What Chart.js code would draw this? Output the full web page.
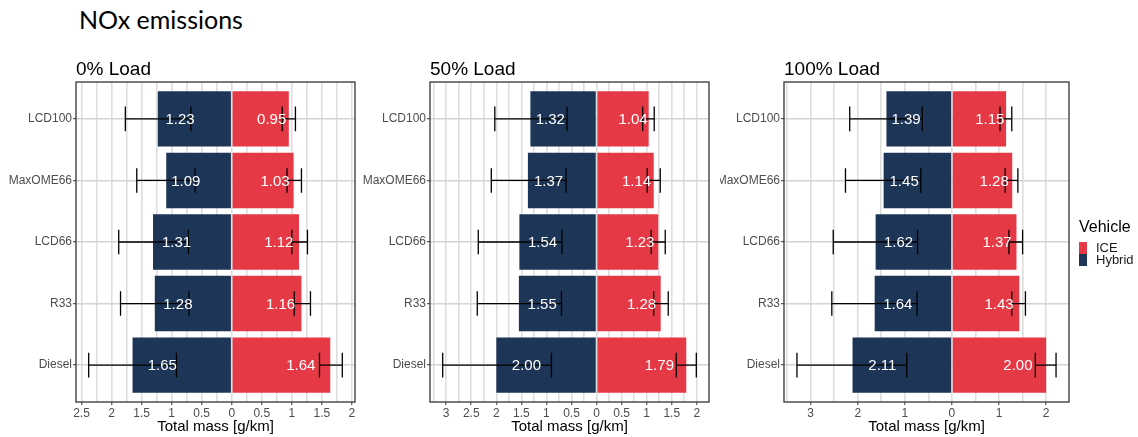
<!DOCTYPE html>
<html>
<head>
<meta charset="utf-8">
<script src="https://cdn.jsdelivr.net/npm/chart.js@4.4.0/dist/chart.umd.min.js"></script>
<style>
  body { margin: 0; background: #fff; width: 1138px; height: 437px; position: relative; overflow: hidden; }
  #mainTitle { position: absolute; left: 79px; top: 4px; font: 25px/30px Lato, "Liberation Sans", sans-serif; color: #000; }
  canvas { position: absolute; top: 0; }
</style>
</head>
<body>
<div id="mainTitle">NOx emissions</div>
<canvas id="p0" width="360" height="437" style="left:0"></canvas>
<canvas id="p1" width="360" height="437" style="left:360px"></canvas>
<canvas id="p2" width="418" height="437" style="left:720px"></canvas>
<script>
// categories, top to bottom
const categories = ['LCD100', 'MaxOME66', 'LCD66', 'R33', 'Diesel'];
const loadTitles = ['0% Load', '50% Load', '100% Load'];

// mean total mass [g/km]
const ice0 = [0.95, 1.03, 1.12, 1.16, 1.64];
const hybrid0 = [1.23, 1.09, 1.31, 1.28, 1.65];
const ice50 = [1.04, 1.14, 1.23, 1.28, 1.79];
const hybrid50 = [1.32, 1.37, 1.54, 1.55, 2.00];
const ice100 = [1.15, 1.28, 1.37, 1.43, 2.00];
const hybrid100 = [1.39, 1.45, 1.62, 1.64, 2.11];

// error bar bounds (lower, upper)
const iceLo0 = [0.84, 0.92, 1.00, 1.04, 1.46];
const iceHi0 = [1.06, 1.16, 1.26, 1.31, 1.84];
const hybridLo0 = [0.68, 0.61, 0.72, 0.71, 0.92];
const hybridHi0 = [1.77, 1.58, 1.88, 1.85, 2.38];
const iceLo50 = [0.92, 1.01, 1.09, 1.14, 1.59];
const iceHi50 = [1.15, 1.27, 1.37, 1.43, 1.99];
const hybridLo50 = [0.59, 0.61, 0.69, 0.70, 0.90];
const hybridHi50 = [2.03, 2.10, 2.36, 2.38, 3.07];
const iceLo100 = [1.02, 1.13, 1.21, 1.27, 1.77];
const iceHi100 = [1.27, 1.40, 1.50, 1.56, 2.21];
const hybridLo100 = [0.63, 0.66, 0.73, 0.74, 0.96];
const hybridHi100 = [2.17, 2.26, 2.52, 2.55, 3.29];

// major tick step per panel
const tickSteps = [0.5, 0.5, 1];

const RED = '#E63946', NAVY = '#1D3557';
const FONT = '"Liberation Sans", Arial, sans-serif';
Chart.defaults.font.family = FONT;
Chart.defaults.animation = false;

const panels = [
  { id: 'p0', ice: ice0, hyb: hybrid0, iceLo: iceLo0, iceHi: iceHi0, hybLo: hybridLo0, hybHi: hybridHi0, axisW: 76, padR: 5 },
  { id: 'p1', ice: ice50, hyb: hybrid50, iceLo: iceLo50, iceHi: iceHi50, hybLo: hybridLo50, hybHi: hybridHi50, axisW: 70, padR: 11 },
  { id: 'p2', ice: ice100, hyb: hybrid100, iceLo: iceLo100, iceHi: iceHi100, hybLo: hybridLo100, hybHi: hybridHi100, axisW: 64, padR: 69 }
];

// error bars, value labels, border, panel title
const decorations = {
  id: 'decorations',
  afterDatasetsDraw(chart, args, opts) {
    const { ctx, scales: { x, y } } = chart;
    const p = opts.panel;
    const sides = [
      { vals: p.ice, lo: p.iceLo, hi: p.iceHi, sign: 1 },
      { vals: p.hyb, lo: p.hybLo, hi: p.hybHi, sign: -1 }
    ];
    ctx.save();
    ctx.strokeStyle = '#000';
    ctx.lineWidth = 1.3;
    sides.forEach(s => {
      s.vals.forEach((v, i) => {
        const x1 = x.getPixelForValue(s.sign * s.lo[i]);
        const x2 = x.getPixelForValue(s.sign * s.hi[i]);
        const yc = y.getPixelForValue(i + 1);
        const ya = y.getPixelForValue(i + 1 - 0.2);
        const yb = y.getPixelForValue(i + 1 + 0.2);
        ctx.beginPath();
        ctx.moveTo(x1, yc); ctx.lineTo(x2, yc);
        ctx.moveTo(x1, ya); ctx.lineTo(x1, yb);
        ctx.moveTo(x2, ya); ctx.lineTo(x2, yb);
        ctx.stroke();
      });
    });
    ctx.fillStyle = '#fff';
    ctx.font = '15px ' + FONT;
    ctx.textAlign = 'center';
    ctx.textBaseline = 'middle';
    sides.forEach(s => {
      s.vals.forEach((v, i) => {
        ctx.fillText(v.toFixed(2), x.getPixelForValue(s.sign * v * 0.7), y.getPixelForValue(i + 1) + 1);
      });
    });
    ctx.restore();
  },
  afterDraw(chart, args, opts) {
    const { ctx, chartArea: a } = chart;
    ctx.save();
    ctx.strokeStyle = '#333';
    ctx.lineWidth = 1.3;
    ctx.strokeRect(a.left, a.top, a.right - a.left, a.bottom - a.top);
    ctx.fillStyle = '#000';
    ctx.font = '19px ' + FONT;
    ctx.textAlign = 'left';
    ctx.textBaseline = 'alphabetic';
    ctx.fillText(opts.title, a.left, 75);
    if (opts.legend) {
      const lx = a.right + 10;
      ctx.font = '16px ' + FONT;
      ctx.fillText('Vehicle', lx, 232);
      ctx.font = '13px ' + FONT;
      ctx.textBaseline = 'middle';
      chart.data.datasets.forEach((ds, k) => {
        const top = 242 + k * 12;
        ctx.fillStyle = ds.backgroundColor;
        ctx.fillRect(lx, top, 8, 12);
        ctx.fillStyle = '#1a1a1a';
        ctx.fillText(ds.label, lx + 17, top + 6.5);
      });
    }
    ctx.restore();
  }
};

panels.forEach((p, k) => {
  const lo = -Math.max(...p.hybHi), hi = Math.max(...p.iceHi);
  const pad = (hi - lo) * 0.05;
  const step = tickSteps[k], minor = step / 2;
  new Chart(document.getElementById(p.id), {
    type: 'bar',
    data: {
      datasets: [
        { label: 'ICE', data: p.ice.map((v, i) => ({ x: v, y: i + 1 })), backgroundColor: RED },
        { label: 'Hybrid', data: p.hyb.map((v, i) => ({ x: -v, y: i + 1 })), backgroundColor: NAVY }
      ]
    },
    options: {
      responsive: false,
      indexAxis: 'y',
      grouped: false,
      barPercentage: 0.9,
      categoryPercentage: 1,
      layout: { padding: { top: 82, right: p.padR, left: 0, bottom: 0 } },
      plugins: {
        legend: { display: false },
        tooltip: { enabled: false },
        decorations: { panel: p, title: loadTitles[k], legend: k === 2 }
      },
      scales: {
        x: {
          type: 'linear',
          min: lo - pad,
          max: hi + pad,
          afterBuildTicks: s => {
            const t = [];
            for (let v = Math.ceil(s.min / minor) * minor; v <= s.max + 1e-9; v += minor) t.push({ value: +v.toFixed(4) });
            s.ticks = t;
          },
          afterFit: s => { s.height = 35; },
          ticks: {
            autoSkip: false, maxRotation: 0, padding: 1,
            color: '#4d4d4d', font: { size: 12 },
            callback: v => (Math.abs(v / step - Math.round(v / step)) < 1e-6 ? String(+Math.abs(v).toFixed(2)) : '')
          },
          grid: {
            color: '#dedede', lineWidth: 1.6, tickLength: 3, tickWidth: 1,
            tickColor: c => (Math.abs(c.tick.value / step - Math.round(c.tick.value / step)) < 1e-6 ? '#333' : 'rgba(0,0,0,0)')
          },
          border: { display: false },
          title: { display: true, text: 'Total mass [g/km]', color: '#000', font: { size: 15 }, padding: { top: 0, bottom: 1 } }
        },
        y: {
          type: 'linear',
          reverse: true,
          offset: false,
          min: 0.4,
          max: 5.6,
          afterBuildTicks: s => { s.ticks = categories.map((c, i) => ({ value: i + 1 })); },
          afterFit: s => { s.width = p.axisW; },
          ticks: { autoSkip: false, padding: 1, color: '#4d4d4d', font: { size: 12 }, callback: v => categories[v - 1] },
          grid: { offset: false, color: '#d3d3d3', lineWidth: 1.4, tickLength: 3, tickColor: '#333', tickWidth: 1 },
          border: { display: false }
        }
      }
    },
    plugins: [decorations]
  });
});
</script>
</body>
</html>
